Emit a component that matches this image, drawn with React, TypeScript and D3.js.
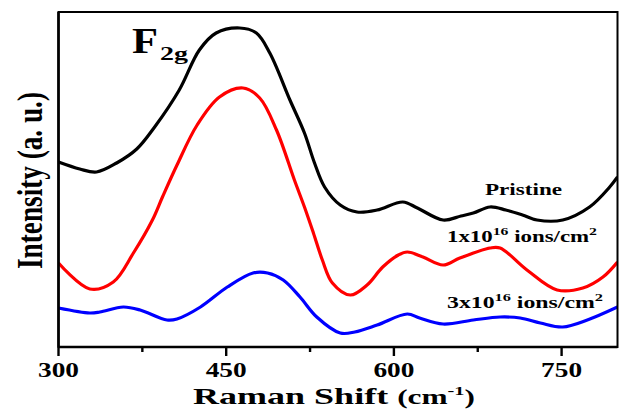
import React from "react";
import * as d3 from "d3";

const pristineX = [300, 319, 334, 352, 370, 386, 408, 426, 441, 462, 477, 489, 507, 520, 529, 538, 552, 567, 585, 608, 621, 644, 660, 671, 686, 700, 715, 728, 751, 775, 793, 800];
const pristineY = [185, 178, 175, 184, 198, 220, 257, 297, 314, 319, 314, 294, 247, 214, 184, 160, 142, 135, 137, 145, 139, 127, 131, 134, 140, 137, 132, 127, 127, 140, 160, 170];

const ion1X = [300, 328, 349, 367, 384, 393, 406, 424, 444, 465, 480, 495, 511, 520, 528, 536, 545, 561, 576, 590, 604, 612, 626, 644, 659, 686, 695, 719, 746, 769, 787, 800];
const ion1Y = [84, 58, 65, 94, 127, 150, 182, 222, 250, 259, 249, 217, 167, 140, 114, 87, 64, 52, 62, 80, 92, 95, 90, 82, 89, 99, 99, 77, 57, 59, 70, 85];

const ion3X = [300, 328, 337, 358, 373, 397, 406, 427, 451, 474, 487, 501, 516, 531, 552, 565, 585, 612, 623, 644, 671, 695, 713, 731, 751, 773, 800];
const ion3Y = [39, 34, 35, 40, 37, 27, 28, 40, 60, 74, 74, 67, 50, 30, 14, 15, 22, 33, 29, 23, 27, 30, 29, 24, 20, 27, 40];

const majorTicks = [300, 450, 600, 750];
const minorTicks = [375, 525, 675];

const serif = "'Liberation Serif', 'Times New Roman', serif";

export default function App() {
  const x = d3.scaleLinear().domain([300, 800]).range([58.5, 617.5]);
  const y = d3.scaleLinear().domain([0, 335]).range([347, 12]);
  const line = d3
    .line<[number, number]>()
    .x((d) => x(d[0]))
    .y((d) => y(d[1]))
    .curve(d3.curveCatmullRom.alpha(0.5));
  const zip = (a: number[], b: number[]) => a.map((v, i) => [v, b[i]] as [number, number]);
  const series = [
    { d: zip(pristineX, pristineY), c: "#000000" },
    { d: zip(ion1X, ion1Y), c: "#ff0000" },
    { d: zip(ion3X, ion3Y), c: "#0000ff" },
  ];
  const [x0, x1] = x.range();
  const [yb, yt] = y.range();
  return (
    <svg
      width={622}
      height={411}
      style={{ position: "absolute", left: 0, top: 0, background: "#fff" }}
      fontFamily={serif}
      fontWeight="bold"
    >
      <defs>
        <clipPath id="plot">
          <rect x={x0} y={yt} width={x1 - x0} height={yb - yt} />
        </clipPath>
      </defs>
      <g clipPath="url(#plot)">
        {series.map((s, i) => (
          <path key={i} d={line(s.d) || ""} fill="none" stroke={s.c} strokeWidth={3.2} strokeLinejoin="round" />
        ))}
      </g>
      <rect x={x0} y={yt} width={x1 - x0} height={yb - yt} fill="none" stroke="#000" strokeWidth={2} />
      <line x1={x0} x2={x0} y1={yt} y2={yb} stroke="#000" strokeWidth={2.6} />
      <line x1={x0} x2={x1} y1={yb} y2={yb} stroke="#000" strokeWidth={2.6} />
      {majorTicks.map((t) => (
        <g key={t}>
          <line x1={x(t)} x2={x(t)} y1={yb} y2={yb + 9} stroke="#000" strokeWidth={2.4} />
          <text x={x(t)} y={377} textAnchor="middle" fontSize={20} textLength={41} lengthAdjust="spacingAndGlyphs">
            {t}
          </text>
        </g>
      ))}
      {minorTicks.map((t) => (
        <line key={t} x1={x(t)} x2={x(t)} y1={yb} y2={yb + 5} stroke="#000" strokeWidth={2.4} />
      ))}
      <text x={193} y={404} fontSize={23} textLength={282} lengthAdjust="spacingAndGlyphs">
        Raman Shift <tspan fontSize={20}>(cm</tspan>
        <tspan fontSize={13} dy={-9}>-1</tspan>
        <tspan fontSize={20} dy={9}>)</tspan>
      </text>
      <text
        transform="translate(42,269) rotate(-90)"
        x={0}
        y={0}
        fontSize={36}
        textLength={177}
        lengthAdjust="spacingAndGlyphs"
      >
        Intensity (a. u.)
      </text>
      <text x={132} y={53} fontSize={35} textLength={26} lengthAdjust="spacingAndGlyphs">
        F
      </text>
      <text x={160} y={60} fontSize={19} textLength={28} lengthAdjust="spacingAndGlyphs">
        2g
      </text>
      <text x={485} y={195} fontSize={16} textLength={77} lengthAdjust="spacingAndGlyphs">
        Pristine
      </text>
      <text x={447} y={242} fontSize={16} textLength={150} lengthAdjust="spacingAndGlyphs">
        1x10<tspan fontSize={11} dy={-7}>16</tspan>
        <tspan dy={7}> ions/cm</tspan>
        <tspan fontSize={11} dy={-7}>2</tspan>
      </text>
      <text x={447} y={308} fontSize={16} textLength={156} lengthAdjust="spacingAndGlyphs">
        3x10<tspan fontSize={11} dy={-7}>16</tspan>
        <tspan dy={7}> ions/cm</tspan>
        <tspan fontSize={11} dy={-7}>2</tspan>
      </text>
    </svg>
  );
}
